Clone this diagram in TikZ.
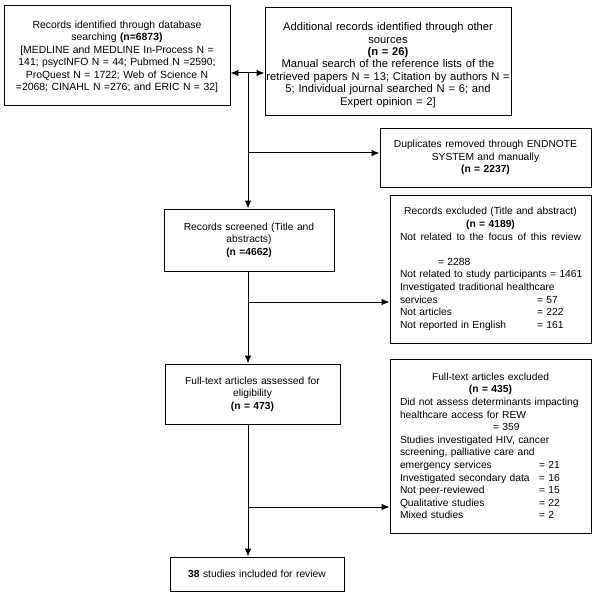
\documentclass[tikz,border=0pt]{standalone}
\usepackage{fontspec}
\setmainfont{Liberation Sans}
\usetikzlibrary{arrows.meta}
\begin{document}
\begin{tikzpicture}[x=1pt,y=-1pt,
  box/.style={draw=black, line width=0.9pt, inner sep=0pt},
  fn/.style={font=\fontsize{10.27}{12.6}\selectfont},
  tip/.tip={Latex[length=8pt,width=6.5pt]},
  conn/.style={line width=1pt, -tip},
]
\useasboundingbox[fill=white] (0,0) rectangle (600,596);

\node[box, minimum width=226pt, minimum height=100pt, text width=216pt, align=center,
  font=\fontsize{10.4}{12.4}\selectfont] (b1) at (117,55)
  {\rule{0pt}{11pt}Records identified through database\\ searching \textbf{(n=6873)}\\ {[}MEDLINE and MEDLINE In-Process N =\\ 141; psycINFO N = 44; Pubmed N =2590;\\ ProQuest N = 1722; Web of Science N\\ =2068; CINAHL N =276; and ERIC N = 32]};

\node[box, minimum width=246pt, minimum height=108pt, text width=244pt, align=center,
  font=\fontsize{11.2}{12.4}\selectfont] (b2) at (388,61)
  {\rule{0pt}{16pt}Additional records identified through other\\ sources\\ \textbf{(n = 26)}\\ Manual search of the reference lists of the\\ retrieved papers N = 13; Citation by authors N =\\ 5; Individual journal searched N = 6; and\\ Expert opinion = 2]};

\node[box, fn, minimum width=211pt, minimum height=59pt, text width=195pt, align=center] (dup) at (485.5,157.5)
  {Duplicates removed through ENDNOTE\\ SYSTEM and manually\\ \textbf{(n = 2237)}};

\node[box, fn, minimum width=170pt, minimum height=62pt, text width=160pt, align=center] (screen) at (249,240)
  {Records screened (Title and\\ abstracts)\\ \textbf{(n =4662)}};

\node[box, fn, minimum width=201pt, minimum height=148pt, text width=181pt, align=left] (excl1) at (490.5,269)
  {\makebox[181pt][c]{Records excluded (Title and abstract)}\\
   \makebox[181pt][c]{\textbf{(n = 4189)}}\\
   \makebox[181pt][s]{Not\hfill related\hfill to\hfill the\hfill focus\hfill of\hfill this\hfill review}\\
   \mbox{}\\
   \mbox{\hspace*{38pt}= 2288}\\
   \mbox{Not related to study participants = 1461}\\
   \mbox{Investigated traditional healthcare}\\
   \mbox{\makebox[137pt][l]{services}= 57}\\
   \mbox{\makebox[137pt][l]{Not articles}= 222}\\
   \mbox{\makebox[137pt][l]{Not reported in English}= 161}};

\node[box, fn, minimum width=175pt, minimum height=60pt, text width=165pt, align=center] (full) at (252.5,394)
  {Full-text articles assessed for\\ eligibility\\ \textbf{(n = 473)}};

\node[box, fn, minimum width=201pt, minimum height=174pt, text width=181pt, align=left] (excl2) at (490.5,446)
  {\makebox[181pt][c]{Full-text articles excluded}\\
   \makebox[181pt][c]{\textbf{(n = 435)}}\\
   \mbox{Did not assess determinants impacting}\\
   \mbox{healthcare access for REW}\\
   \mbox{\hspace*{93pt}= 359}\\
   \mbox{Studies investigated HIV, cancer}\\
   \mbox{screening, palliative care and}\\
   \mbox{\makebox[139pt][l]{emergency services}= 21}\\
   \mbox{\makebox[139pt][l]{Investigated secondary data}= 16}\\
   \mbox{\makebox[139pt][l]{Not peer-reviewed}= 15}\\
   \mbox{\makebox[139pt][l]{Qualitative studies}= 22}\\
   \mbox{\makebox[139pt][l]{Mixed studies}= 2}};

\node[box, fn, minimum width=174pt, minimum height=34pt, text width=164pt, align=center] (incl) at (257,574)
  {\textbf{38} studies included for review};

\coordinate (j0) at (248,73);
\coordinate (k1) at (248,153);
\coordinate (k2) at (248,302);
\coordinate (k3) at (248,507);

\draw[line width=1pt, tip-tip] (j0 -| b1.east) -- (j0 -| b2.west);
\draw[conn] (j0) -- (j0 |- screen.north);
\draw[conn] (k1) -- (k1 -| dup.west);
\draw[conn] (j0 |- screen.south) -- (j0 |- full.north);
\draw[conn] (k2) -- (k2 -| excl1.west);
\draw[conn] (j0 |- full.south) -- (j0 |- incl.north);
\draw[conn] (k3) -- (k3 -| excl2.west);
\end{tikzpicture}
\end{document}
